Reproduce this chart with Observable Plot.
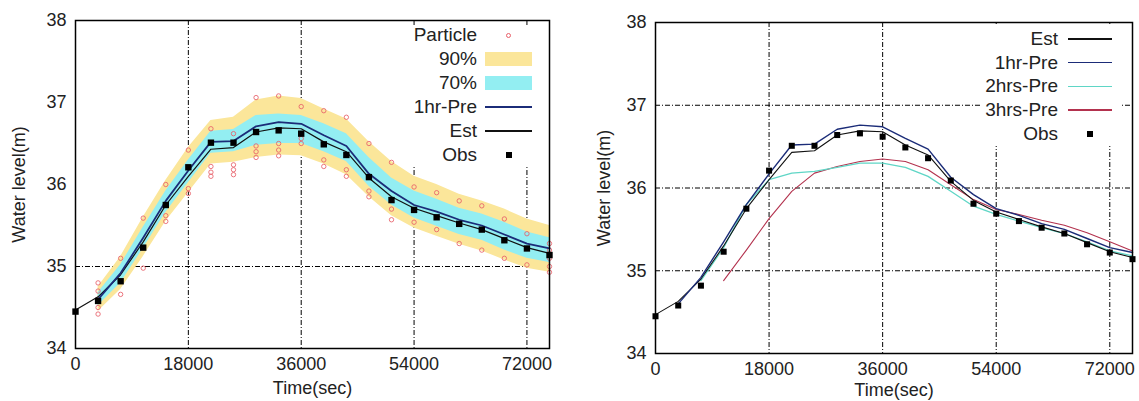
<!DOCTYPE html>
<html>
<head>
<meta charset="utf-8">
<script src="https://cdn.jsdelivr.net/npm/d3@7"></script>
<script src="https://cdn.jsdelivr.net/npm/@observablehq/plot@0.6"></script>
<style>
  html, body { margin: 0; padding: 0; background: #fff; }
  #wrap { position: relative; width: 1139px; height: 401px; overflow: hidden; font-family: "Liberation Sans", Arial, sans-serif; }
  .panel { position: absolute; top: 0; }
  .legend { position: absolute; background: #fff; }
  .lg-text { position: absolute; font-size: 19px; color: #222; text-align: right; white-space: nowrap; line-height: 22px; }
  .lg-sample { position: absolute; }
</style>
</head>
<body>
<div id="wrap"></div>
<script>
// ---------- data ----------
const xTicks = [0, 18000, 36000, 54000, 72000];
const yTicks = [34, 35, 36, 37, 38];

// observation times (s)
const obsTime = [0, 3600, 7200, 10800, 14400, 18000, 21600, 25200, 28800, 32400, 36000,
                 39600, 43200, 46800, 50400, 54000, 57600, 61200, 64800, 68400, 72000, 75600];
const obsLevel = [34.45, 34.58, 34.82, 35.23, 35.75, 36.21, 36.51, 36.51, 36.64, 36.66, 36.62,
                  36.49, 36.36, 36.09, 35.81, 35.69, 35.60, 35.52, 35.45, 35.32, 35.22, 35.14];

// filter estimate (from t = 0)
const estLevel = [34.47, 34.63, 34.90, 35.30, 35.75, 36.10, 36.43, 36.45, 36.64, 36.69, 36.68,
                  36.52, 36.40, 36.08, 35.85, 35.71, 35.62, 35.53, 35.45, 35.34, 35.23, 35.16];

// 1-hour-ahead prediction (from t = 3600)
const preTime = obsTime.slice(1);
const pre1Level = [34.60, 34.92, 35.35, 35.80, 36.17, 36.52, 36.53, 36.71, 36.76, 36.74,
                   36.60, 36.47, 36.13, 35.92, 35.75, 35.67, 35.57, 35.50, 35.39, 35.28, 35.22];

// prediction bands (t = 3600 ... 75600)
const lo90 = [34.45, 34.72, 35.12, 35.55, 35.90, 36.25, 36.27, 36.33, 36.36, 36.35,
              36.25, 36.12, 35.85, 35.62, 35.47, 35.37, 35.27, 35.19, 35.08, 34.98, 34.93];
const lo70 = [34.52, 34.80, 35.22, 35.66, 36.02, 36.38, 36.40, 36.48, 36.50, 36.50,
              36.40, 36.28, 35.98, 35.75, 35.59, 35.49, 35.39, 35.32, 35.20, 35.10, 35.05];
const hi70 = [34.68, 35.02, 35.48, 35.92, 36.30, 36.65, 36.67, 36.84, 36.86, 36.84,
              36.74, 36.62, 36.33, 36.08, 35.92, 35.82, 35.71, 35.64, 35.54, 35.42, 35.35];
const hi90 = [34.75, 35.12, 35.60, 36.05, 36.45, 36.78, 36.82, 37.03, 37.08, 37.05,
              36.92, 36.80, 36.52, 36.28, 36.10, 36.00, 35.88, 35.80, 35.70, 35.58, 35.50];

// particle samples: [time, level]
const particleTime = [3600, 3600, 3600, 3600, 3600, 7200, 7200, 10800, 10800,
  14400, 14400, 14400, 18000, 18000, 18000, 21600, 21600, 21600, 21600,
  25200, 25200, 25200, 25200, 28800, 28800, 28800, 28800, 32400, 32400, 32400, 32400,
  36000, 36000, 36000, 39600, 39600, 39600, 43200, 43200, 43200, 46800, 46800, 46800,
  50400, 50400, 50400, 54000, 54000, 57600, 57600, 61200, 61200, 64800, 64800,
  68400, 68400, 72000, 72000, 75600, 75600, 75600, 75600, 75600];
const particleLevel = [34.42, 34.50, 34.60, 34.70, 34.80, 34.66, 35.10, 34.98, 35.59,
  35.55, 35.62, 36.00, 35.89, 35.95, 36.42, 36.10, 36.15, 36.22, 36.68,
  36.12, 36.18, 36.24, 36.62, 36.33, 36.40, 36.47, 37.06, 36.35, 36.42, 36.50, 37.08,
  36.50, 36.56, 36.95, 36.22, 36.30, 36.90, 36.10, 36.18, 36.82, 35.85, 35.92, 36.50,
  35.57, 35.70, 36.27, 35.54, 35.97, 35.45, 35.90, 35.28, 35.80, 35.20, 35.74,
  35.10, 35.58, 35.02, 35.40, 34.93, 35.00, 35.10, 35.20, 35.28];

// right panel: multi-step predictions
const pre2Time = obsTime.slice(2);
const pre2Level = [34.88, 35.28, 35.80, 36.10, 36.18, 36.20, 36.25, 36.30, 36.30,
                   36.25, 36.14, 35.96, 35.78, 35.68, 35.60, 35.52, 35.45, 35.35, 35.24, 35.18];
const pre3Time = obsTime.slice(3);
const pre3Level = [34.88, 35.25, 35.63, 35.96, 36.18, 36.26, 36.32, 36.35,
                   36.32, 36.22, 36.04, 35.86, 35.74, 35.68, 35.61, 35.55, 35.46, 35.35, 35.24];

const leftLegendLabels = ["Particle", "90%", "70%", "1hr-Pre", "Est", "Obs"];
const rightLegendLabels = ["Est", "1hr-Pre", "2hrs-Pre", "3hrs-Pre", "Obs"];

// ---------- styles ----------
const C = {
  yellow: "#fbe69a", cyan: "#93eef2", particle: "#e8606a",
  pre1: "#1b2c78", est: "#111111", pre2: "#5fd6c6", pre3: "#b3324e"
};
const gridDash = "5,2,1,2";

// ---------- tables ----------
const obs = obsTime.map((t, i) => ({t, v: obsLevel[i]}));
const est = obsTime.map((t, i) => ({t, v: estLevel[i]}));
const pre1 = preTime.map((t, i) => ({t, v: pre1Level[i]}));
const band = preTime.map((t, i) => ({t, lo90: lo90[i], lo70: lo70[i], hi70: hi70[i], hi90: hi90[i]}));
const particles = particleTime.map((t, i) => ({t, v: particleLevel[i]}));
const pre2 = pre2Time.map((t, i) => ({t, v: pre2Level[i]}));
const pre3 = pre3Time.map((t, i) => ({t, v: pre3Level[i]}));

const wrap = document.getElementById("wrap");
const fmt = d => String(d);

function axes(yLabelOffset, xLabelOffset) {
  return [
    Plot.axisX(xTicks, {tickSize: 0, tickPadding: 9, tickFormat: fmt, fontSize: 18, fill: "#222",
      label: "Time(sec)", labelArrow: "none", labelAnchor: "center", labelOffset: xLabelOffset}),
    Plot.axisY(yTicks, {tickSize: 0, tickPadding: 9, tickFormat: fmt, fontSize: 18, fill: "#222",
      label: "Water level(m)", labelArrow: "none", labelAnchor: "center", labelOffset: yLabelOffset})
  ];
}

// ---------- left panel ----------
const left = Plot.plot({
  width: 570, height: 401,
  marginLeft: 75, marginRight: 21, marginTop: 20, marginBottom: 53,
  style: {fontFamily: "Liberation Sans, Arial, sans-serif", fontSize: "18px", color: "#222", background: "#fff"},
  x: {domain: [0, 75600]},
  y: {domain: [34, 38]},
  marks: [
    Plot.ruleX(xTicks.slice(1), {stroke: "#000", strokeDasharray: gridDash, strokeWidth: 1}),
    Plot.ruleY([35], {stroke: "#000", strokeDasharray: gridDash, strokeWidth: 1}),
    Plot.areaY(band, {x: "t", y1: "lo90", y2: "hi90", fill: C.yellow}),
    Plot.areaY(band, {x: "t", y1: "lo70", y2: "hi70", fill: C.cyan}),
    Plot.dot(particles, {x: "t", y: "v", r: 2.2, stroke: C.particle, strokeWidth: 1, fill: "none", strokeOpacity: 0.85}),
    Plot.line(est, {x: "t", y: "v", stroke: C.est, strokeWidth: 1.2}),
    Plot.line(pre1, {x: "t", y: "v", stroke: C.pre1, strokeWidth: 1.8}),
    Plot.dot(obs, {x: "t", y: "v", symbol: "square", r: 3.6, fill: "#000"}),
    Plot.frame({stroke: "#000", strokeWidth: 1.5}),
    ...axes(63, 45)
  ]
});
const lp = document.createElement("div");
lp.className = "panel"; lp.style.left = "0px";
lp.appendChild(left);
wrap.appendChild(lp);

// ---------- right panel ----------
const right = Plot.plot({
  width: 569, height: 401,
  marginLeft: 85, marginRight: 7, marginTop: 22, marginBottom: 48,
  style: {fontFamily: "Liberation Sans, Arial, sans-serif", fontSize: "18px", color: "#222", background: "#fff"},
  x: {domain: [0, 75600]},
  y: {domain: [34, 38]},
  marks: [
    Plot.ruleX(xTicks.slice(1), {stroke: "#000", strokeDasharray: gridDash, strokeWidth: 1}),
    Plot.ruleY([35, 36, 37], {stroke: "#000", strokeDasharray: gridDash, strokeWidth: 1}),
    Plot.line(pre3, {x: "t", y: "v", stroke: C.pre3, strokeWidth: 1.1}),
    Plot.line(pre2, {x: "t", y: "v", stroke: C.pre2, strokeWidth: 1.3}),
    Plot.line(est, {x: "t", y: "v", stroke: C.est, strokeWidth: 1.1}),
    Plot.line(pre1, {x: "t", y: "v", stroke: C.pre1, strokeWidth: 1.4}),
    Plot.dot(obs, {x: "t", y: "v", symbol: "square", r: 3.4, fill: "#000"}),
    Plot.frame({stroke: "#000", strokeWidth: 1.5}),
    ...axes(58, 42)
  ]
});
const rp = document.createElement("div");
rp.className = "panel"; rp.style.left = "570px";
rp.appendChild(right);
wrap.appendChild(rp);

// ---------- legends (HTML, opaque like gnuplot key) ----------
function legend(labels, kinds, colors, box, textRight, s0, s1, y0, dy) {
  const lg = document.createElement("div");
  lg.className = "legend";
  Object.assign(lg.style, {left: box[0] + "px", top: box[1] + "px", width: box[2] + "px", height: box[3] + "px"});
  wrap.appendChild(lg);
  labels.forEach((lab, i) => {
    const cy = y0 + i * dy;
    const t = document.createElement("div");
    t.className = "lg-text";
    t.textContent = lab;
    Object.assign(t.style, {right: (1139 - textRight) + "px", top: (cy - 11) + "px"});
    wrap.appendChild(t);
    const s = document.createElement("div");
    s.className = "lg-sample";
    const mid = (s0 + s1) / 2;
    const k = kinds[i];
    if (k === "rect") {
      Object.assign(s.style, {left: s0 + "px", width: (s1 - s0) + "px", top: (cy - 7) + "px", height: "14px", background: colors[i]});
    } else if (k === "line") {
      Object.assign(s.style, {left: s0 + "px", width: (s1 - s0) + "px", top: (cy - 0.75) + "px", height: "1.5px", background: colors[i]});
    } else if (k === "square") {
      Object.assign(s.style, {left: (mid - 3) + "px", width: "6px", top: (cy - 3) + "px", height: "6px", background: colors[i]});
    } else if (k === "circle") {
      Object.assign(s.style, {left: (mid - 2.5) + "px", width: "3px", top: (cy - 2.5) + "px", height: "3px", border: "1px solid " + colors[i], borderRadius: "50%"});
    }
    wrap.appendChild(s);
  });
}

legend(leftLegendLabels,
  ["circle", "rect", "rect", "line", "line", "square"],
  [C.particle, C.yellow, C.cyan, C.pre1, C.est, "#000"],
  [408, 25, 138, 141], 477, 485, 532, 35, 24);

legend(rightLegendLabels,
  ["line", "line", "line", "line", "square"],
  [C.est, C.pre1, C.pre2, C.pre3, "#000"],
  [980, 24, 140, 122], 1058, 1068, 1112, 39, 23.7);
</script>
</body>
</html>
